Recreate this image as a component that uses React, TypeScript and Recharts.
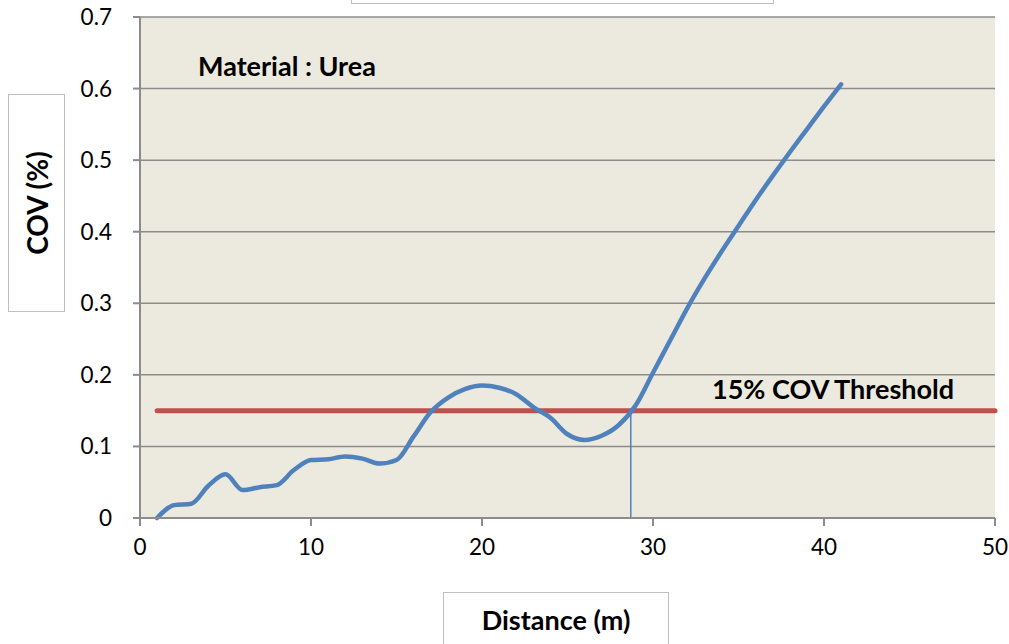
import { LineChart, Line, XAxis, YAxis, CartesianGrid } from "recharts";

// distance (m) along the line and measured COV
const distance = [1, 2, 3, 4, 5, 6, 7, 8, 9, 10, 11, 12, 13, 14, 15, 16, 17, 18, 19, 20, 21, 22, 23, 24, 25, 26, 27, 28, 29, 30, 31, 32, 33, 34, 35, 36, 37, 38, 39, 40, 41];
const cov = [0, 0.018, 0.02, 0.045, 0.061, 0.039, 0.043, 0.046, 0.067, 0.081, 0.082, 0.086, 0.083, 0.076, 0.081, 0.114, 0.148, 0.168, 0.18, 0.185, 0.182, 0.173, 0.155, 0.14, 0.117, 0.109, 0.115, 0.13, 0.158, 0.203, 0.248, 0.293, 0.334, 0.372, 0.408, 0.444, 0.478, 0.511, 0.543, 0.575, 0.606];

const thresholdX = [1, 50];
const thresholdValue = 0.15;
const crossingX = 28.7;

const xTicks = [0, 10, 20, 30, 40, 50];
const yTicks = [0, 0.1, 0.2, 0.3, 0.4, 0.5, 0.6, 0.7];

const covData = distance.map((x, i) => ({ x, y: cov[i] }));
const thresholdData = thresholdX.map((x) => ({ x, y: thresholdValue }));
const crossingData = [
  { x: crossingX, y: 0 },
  { x: crossingX, y: thresholdValue },
];

const font = "Lato, 'Noto Sans', sans-serif";
const grey = "#8c8c8c";

const boxStyle: React.CSSProperties = {
  position: "absolute",
  border: "1.5px solid #bfbfbf",
  background: "#fff",
  boxSizing: "border-box",
};

export default function App() {
  return (
    <div style={{ position: "absolute", left: 0, top: 0, width: 1009, height: 644, background: "#fff", fontFamily: font, overflow: "hidden" }}>
      <LineChart width={1009} height={644} margin={{ top: 17, right: 14, bottom: 96, left: 80 }}>
        <CartesianGrid vertical={false} fill="#ECE9DF" stroke={grey} strokeWidth={1.5} />
        <XAxis
          type="number"
          dataKey="x"
          domain={[0, 50]}
          ticks={xTicks}
          height={30}
          stroke={grey}
          strokeWidth={2}
          tickSize={8}
          tickMargin={13}
          tick={{ fill: "#000", fontSize: 22.5, fontFamily: font }}
          allowDuplicatedCategory={false}
        />
        <YAxis
          type="number"
          domain={[0, 0.7]}
          ticks={yTicks}
          width={60}
          stroke={grey}
          strokeWidth={2}
          tickSize={7}
          tickMargin={21}
          tick={{ fill: "#000", fontSize: 22.5, fontFamily: font }}
          tickFormatter={(v) => (v === 0 ? "0" : String(Number(v.toFixed(1))))}
        />
        <Line data={thresholdData} dataKey="y" type="linear" stroke="#C0504D" strokeWidth={5} dot={false} isAnimationActive={false} strokeLinecap="round" />
        <Line data={crossingData} dataKey="y" type="linear" stroke="#4F81BD" strokeWidth={1.5} dot={false} isAnimationActive={false} />
        <Line data={covData} dataKey="y" type="monotone" stroke="#4F81BD" strokeWidth={4.5} dot={false} isAnimationActive={false} strokeLinecap="round" />
      </LineChart>

      {/* chart title box, cut off at the top */}
      <div style={{ ...boxStyle, left: 351, top: -20, width: 423, height: 24 }} />

      {/* axis title boxes */}
      <div style={{ ...boxStyle, left: 8, top: 94, width: 57, height: 218, display: "flex", alignItems: "center", justifyContent: "center" }}>
        <div style={{ transform: "rotate(-90deg)", whiteSpace: "nowrap", fontWeight: 700, fontSize: 28 }}>COV (%)</div>
      </div>
      <div style={{ ...boxStyle, left: 443, top: 592, width: 226, height: 70, paddingTop: 10, textAlign: "center", fontWeight: 700, fontSize: 27 }}>
        Distance (m)
      </div>

      <div style={{ position: "absolute", left: 198, top: 49, fontWeight: 700, fontSize: 27, whiteSpace: "nowrap" }}>Material : Urea</div>
      <div style={{ position: "absolute", left: 712, top: 372, fontWeight: 700, fontSize: 27, whiteSpace: "nowrap" }}>15% COV Threshold</div>
    </div>
  );
}
